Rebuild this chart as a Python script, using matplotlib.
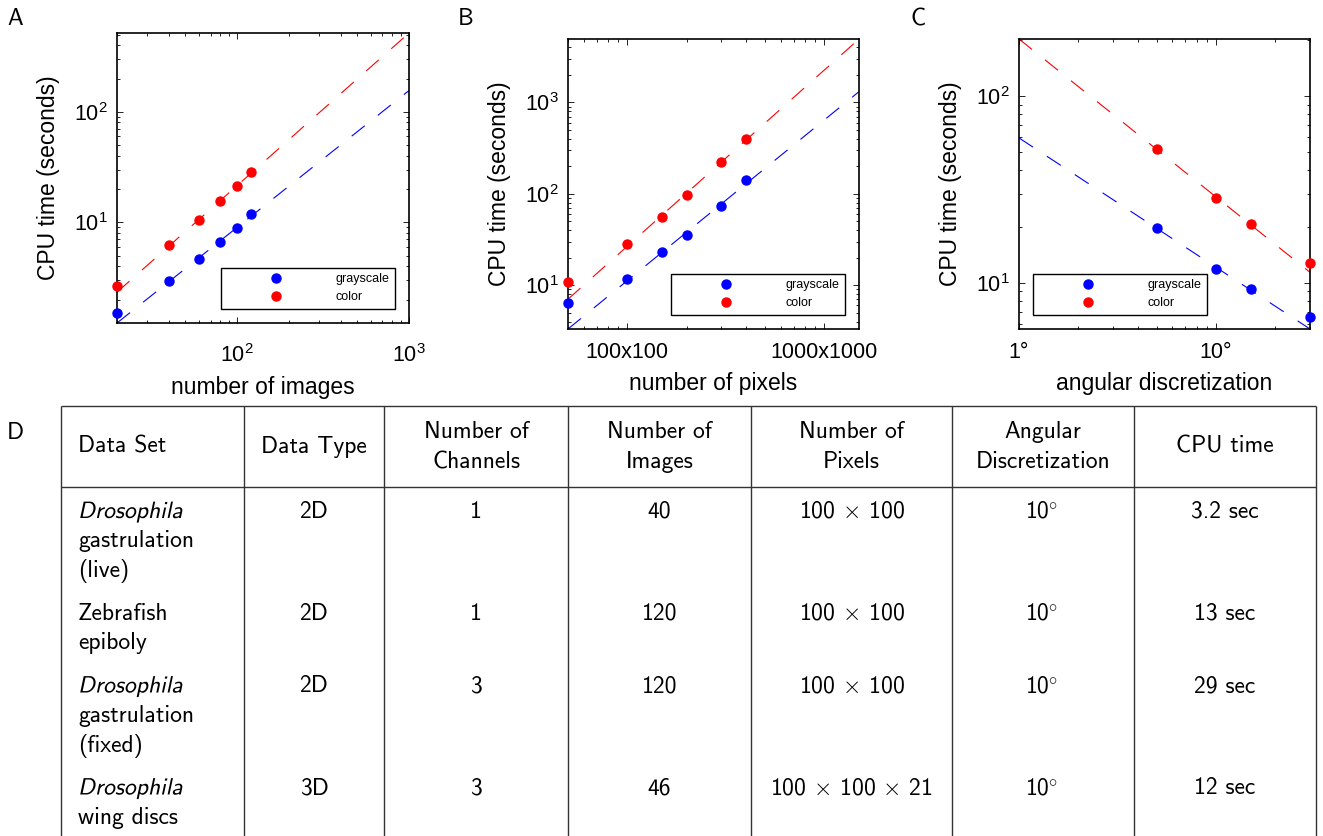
import matplotlib
matplotlib.use("Agg")
import matplotlib.pyplot as plt
import numpy as np
from matplotlib.ticker import NullFormatter
from matplotlib.textpath import TextPath
from matplotlib.patches import PathPatch
from matplotlib.font_manager import FontProperties
from matplotlib.transforms import Affine2D

plt.rcParams['font.family'] = ['Liberation Sans', 'DejaVu Sans']
plt.rcParams['mathtext.fontset'] = 'custom'
plt.rcParams['mathtext.rm'] = 'Liberation Sans'
plt.rcParams['mathtext.it'] = 'Liberation Sans:italic'
plt.rcParams['mathtext.bf'] = 'Liberation Sans:bold'
plt.rcParams['lines.scale_dashes'] = False

# --- panel A: number of images
img_n = [20, 40, 60, 80, 100, 120]
img_gray = [1.52, 2.97, 4.7, 6.6, 8.8, 11.8]
img_color = [2.67, 6.2, 10.4, 15.5, 21.2, 28.5]
img_xlim = [20, 1000]

# --- panel B: image side (pixels)
pix_side = [50, 100, 150, 200, 300, 400]
pix_gray = [6.4, 11.8, 23, 35, 73, 140]
pix_color = [10.8, 28.2, 56, 97, 222, 401]
pix_xlim = [50, 1500]
pix_ticks = [100, 1000]

# --- panel C: angular discretization (degrees)
ang_deg = [5, 10, 15, 30]
ang_gray = [19.7, 11.9, 9.25, 6.6]
ang_color = [52, 28.5, 20.6, 12.7]
ang_xlim = [1, 30]
ang_ticks = [1, 10]

# --- panel D: table
headers = ["Data Set", "Data Type", "Number of\nChannels", "Number of\nImages",
           "Number of\nPixels", "Angular\nDiscretization", "CPU time"]
dataset_lines = [["Drosophila", "gastrulation", "(live)"],
                 ["Zebrafish", "epiboly"],
                 ["Drosophila", "gastrulation", "(fixed)"],
                 ["Drosophila", "wing discs"]]
dataset_italic = [True, False, True, True]
data_type = ["2D", "2D", "2D", "3D"]
n_channels = [1, 1, 3, 3]
n_images = [40, 120, 120, 46]
n_pixels = [[100, 100], [100, 100], [100, 100], [100, 100, 21]]
ang_table = [10, 10, 10, 10]
cpu_sec = [3.2, 13, 29, 12]

BLUE = (0, 0, 1)
RED = (1, 0, 0)
W, H = 1323, 836


def powerfit(x, y, skip):
    # power law fit in log-log space, leaving out the cheapest run
    x = np.delete(np.log10(x), skip)
    y = np.delete(np.log10(y), skip)
    return np.polyfit(x, y, 1)


def panel(rect, x, gray, color, xlim, skip, xlabel, legloc, xpad):
    ax = fig.add_axes([rect[0] / W, 1 - rect[3] / H, (rect[2] - rect[0]) / W, (rect[3] - rect[1]) / H])
    xx = np.logspace(np.log10(xlim[0]), np.log10(xlim[1]), 50)
    lo, hi = [], []
    for y, c in ((gray, BLUE), (color, RED)):
        p = powerfit(x, y, skip)
        yy = 10 ** np.polyval(p, np.log10(xx))
        ax.plot(xx, yy, color=c, lw=0.8, ls=(0, (12, 12)))
        lo.append(yy.min()); hi.append(yy.max())
    ax.plot(x, gray, 'o', color=BLUE, ms=6.5, label='grayscale', clip_on=False, zorder=3)
    ax.plot(x, color, 'o', color=RED, ms=6.5, label='color', clip_on=False, zorder=3)
    ax.set_xscale('log'); ax.set_yscale('log')
    ax.set_xlim(xlim); ax.set_ylim(min(lo), max(hi))
    ax.xaxis.set_minor_formatter(NullFormatter())
    ax.yaxis.set_minor_formatter(NullFormatter())
    ax.tick_params(which='both', direction='in', top=True, right=True, width=0.6)
    ax.tick_params(which='major', length=4, labelsize=15.5, pad=7)
    ax.tick_params(axis='x', which='major', pad=xpad)
    ax.tick_params(which='minor', length=2.2)
    for s in ax.spines.values():
        s.set_linewidth(1.2)
    ax.set_xlabel(xlabel, fontsize=16.5, labelpad=6)
    ax.set_ylabel('CPU time (seconds)', fontsize=16.5, labelpad=10)
    leg = ax.legend(loc=legloc, fontsize=9, fancybox=False, edgecolor='black', framealpha=1,
                    borderpad=0.45, handlelength=7.9, handletextpad=0.8, labelspacing=0.45,
                    borderaxespad=1.15)
    leg.get_frame().set_linewidth(1.0)
    return ax


fig = plt.figure(figsize=(W / 100, H / 100), dpi=100)

axA = panel((117, 33, 409, 323), img_n, img_gray, img_color, img_xlim, 0,
            'number of images', 'lower right', 15.5)

axB = panel((568, 39, 859, 329), pix_side, pix_gray, pix_color, pix_xlim, 0,
            'number of pixels', 'lower right', 9.5)
axB.set_xticks(pix_ticks, labels=[f"{v}x{v}" for v in pix_ticks])
axB.xaxis.set_minor_formatter(NullFormatter())

axC = panel((1019, 39, 1310, 329), ang_deg, ang_gray, ang_color, ang_xlim, -1,
            'angular discretization', 'lower left', 9.5)
axC.set_xticks(ang_ticks, labels=[f"{v}°" for v in ang_ticks])
axC.xaxis.set_minor_formatter(NullFormatter())

# --- table and panel letters in pixel coordinates
axT = fig.add_axes([0, 0, 1, 1], zorder=-1)
axT.set_xlim(0, W); axT.set_ylim(H, 0); axT.axis('off')

TF = 'cmss10'
FS = 17
LC = '#333333'
for lab, (lx, ly) in zip("ABC", [(7, 25), (458, 25), (910, 25)]):
    axT.text(lx, ly, lab, family=TF, fontsize=17, va='baseline', ha='left')
axT.text(7, 439, "D", family=TF, fontsize=17, va='baseline', ha='left')

edges = [61, 244, 384, 568, 751, 952, 1134, 1316]
top, head_bot, bot = 406, 487, 836
axT.vlines(edges, top, bot, color=LC, lw=1.0)
axT.hlines([top, head_bot], edges[0], edges[-1], color=LC, lw=1.0)

centers = [(a + b) / 2 for a, b in zip(edges[:-1], edges[1:])]
for i, h in enumerate(headers):
    lines = h.split("\n")
    ys = [452.7] if len(lines) == 1 else [438.3, 468.3]
    for ln, yb in zip(lines, ys):
        if i == 0:
            axT.text(edges[0] + 17, yb, ln, family=TF, fontsize=FS, va='baseline', ha='left')
        else:
            axT.text(centers[i], yb, ln, family=TF, fontsize=FS, va='baseline', ha='center')

line_h, row_gap = 29.5, 13.5
yb = 518
px = FS * 100 / 72
for r in range(len(dataset_lines)):
    for k, ln in enumerate(dataset_lines[r]):
        y = yb + k * line_h
        if k == 0 and dataset_italic[r]:
            tp = TextPath((0, 0), ln, size=px, prop=FontProperties(family=TF))
            tr = Affine2D().skew_deg(12, 0).scale(1, -1).translate(edges[0] + 17, y) + axT.transData
            axT.add_patch(PathPatch(tp, fc='black', lw=0, transform=tr))
        else:
            axT.text(edges[0] + 17, y, ln, family=TF, fontsize=FS, va='baseline', ha='left')
    cells = [data_type[r], str(n_channels[r]), str(n_images[r]),
             r" $\times$ ".join(str(v) for v in n_pixels[r]),
             str(ang_table[r]), f"{cpu_sec[r]:g} sec"]
    for c, txt in enumerate(cells):
        xc = centers[c + 1] - (5 if c == 4 else 0)
        t = axT.text(xc, yb, txt, family=TF, fontsize=FS, va='baseline', ha='center',
                     math_fontfamily='cm')
        if c == 4:
            # degree sign as a raised circle, as in the typeset table
            axT.annotate(r"$\circ$", xy=(1, 1), xycoords=t, xytext=(-1, 2.5),
                         textcoords='offset points', ha='left', va='top',
                         fontsize=FS * 0.7, math_fontfamily='cm')
    yb += len(dataset_lines[r]) * line_h + row_gap

fig.savefig('out.png', dpi=100)
